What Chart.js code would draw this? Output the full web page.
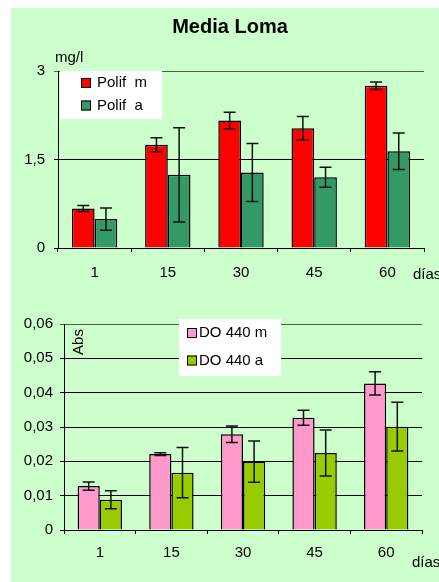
<!DOCTYPE html>
<html>
<head>
<meta charset="utf-8">
<script src="https://cdn.jsdelivr.net/npm/chart.js@4.4.0/dist/chart.umd.min.js"></script>
<style>
  body { margin: 0; background: #fff; }
  #panel { position: absolute; left: 11px; top: 8px; width: 428px; height: 574px; background: #ccffcc; overflow: hidden; }
  canvas { position: absolute; left: 0; }
  #polifChart { top: 0; }
  #absChart { top: 282px; }
</style>
</head>
<body>
<div id="panel">
  <canvas id="polifChart" width="428" height="282"></canvas>
  <canvas id="absChart" width="428" height="292"></canvas>
</div>
<script>
// values
var days = ['1', '15', '30', '45', '60'];

var polifM = [0.67, 1.75, 2.16, 2.03, 2.75];
var polifMErr = [0.05, 0.12, 0.14, 0.20, 0.065];
var polifA = [0.49, 1.24, 1.28, 1.20, 1.64];
var polifAErr = [0.19, 0.80, 0.49, 0.17, 0.31];

var doM = [0.0128, 0.0221, 0.0279, 0.0327, 0.0427];
var doMErr = [0.0012, 0.0004, 0.0024, 0.0022, 0.0034];
var doA = [0.0088, 0.0167, 0.0199, 0.0224, 0.0301];
var doAErr = [0.0026, 0.0073, 0.0060, 0.0067, 0.0071];

var FONT = "'Liberation Sans', Arial, sans-serif";
Chart.defaults.font.family = FONT;
Chart.defaults.font.size = 15;
Chart.defaults.color = '#000';

// error bars (uses dataset.errors)
var errorBars = {
  id: 'errorBars',
  afterDatasetsDraw: function(chart) {
    var ctx = chart.ctx;
    var yScale = chart.scales.y;
    ctx.save();
    ctx.strokeStyle = '#111';
    ctx.lineWidth = 1.5;
    chart.data.datasets.forEach(function(ds, i) {
      var meta = chart.getDatasetMeta(i);
      meta.data.forEach(function(bar, j) {
        var v = ds.data[j], e = ds.errors[j];
        var top = yScale.getPixelForValue(v + e);
        var bot = yScale.getPixelForValue(v - e);
        ctx.beginPath();
        ctx.moveTo(bar.x, top); ctx.lineTo(bar.x, bot);
        ctx.moveTo(bar.x - 6, top); ctx.lineTo(bar.x + 6, top);
        ctx.moveTo(bar.x - 6, bot); ctx.lineTo(bar.x + 6, bot);
        ctx.stroke();
      });
    });
    ctx.restore();
  }
};

// legend box + extra texts (title, units)
var extras = {
  id: 'extras',
  afterDraw: function(chart, args, opts) {
    var ctx = chart.ctx;
    ctx.save();
    var b = opts.box;
    ctx.fillStyle = '#fff';
    ctx.fillRect(b.x, b.y, b.w, b.h);
    ctx.font = '15px ' + FONT;
    ctx.textBaseline = 'middle';
    ctx.textAlign = 'left';
    chart.data.datasets.forEach(function(ds, i) {
      var cy = b.rows[i];
      ctx.fillStyle = ds.backgroundColor;
      ctx.fillRect(b.sx, cy - 5, 10, 10);
      ctx.strokeStyle = '#000';
      ctx.lineWidth = 1;
      ctx.strokeRect(b.sx + 0.5, cy - 4.5, 9, 9);
      ctx.fillStyle = '#000';
      ctx.fillText(ds.label, b.tx, cy);
    });
    opts.texts.forEach(function(t) {
      ctx.save();
      ctx.translate(t.x, t.y);
      if (t.rot) ctx.rotate(t.rot);
      ctx.font = (t.font || '15px') + ' ' + FONT;
      ctx.textAlign = t.align || 'left';
      ctx.fillStyle = '#000';
      ctx.fillText(t.text, 0, 0);
      ctx.restore();
    });
    ctx.restore();
  }
};

function gridColor(max) {
  return function(c) { return c.tick && c.tick.value === max ? '#4f5f4f' : '#000'; };
}

new Chart(document.getElementById('polifChart'), {
  type: 'bar',
  data: {
    labels: days,
    datasets: [
      { label: 'Polif  m', data: polifM, errors: polifMErr, backgroundColor: '#ff0000', borderColor: '#000', borderWidth: 1.5 },
      { label: 'Polif  a', data: polifA, errors: polifAErr, backgroundColor: '#339966', borderColor: '#000', borderWidth: 1.5 }
    ]
  },
  plugins: [errorBars, extras],
  options: {
    responsive: false,
    animation: false,
    layout: { padding: { top: 63, right: 15 } },
    categoryPercentage: 0.62,
    barPercentage: 1,
    plugins: {
      legend: { display: false },
      tooltip: { enabled: false },
      extras: {
        box: { x: 49, y: 63, w: 102, h: 48, sx: 70, tx: 86, rows: [75, 97.5] },
        texts: [
          { text: 'Media Loma', x: 219, y: 19, align: 'center', font: 'bold 20px' },
          { text: 'mg/l', x: 44, y: 50 },
          { text: 'días', x: 402, y: 267 }
        ]
      }
    },
    scales: {
      x: {
        grid: { drawOnChartArea: false, tickLength: 4, color: '#000' },
        border: { color: '#000' },
        ticks: { padding: 12 },
        afterFit: function(s) { s.height = 42; }
      },
      y: {
        min: 0, max: 3,
        grid: { color: gridColor(3), tickLength: 4 },
        border: { color: '#000' },
        ticks: { stepSize: 1.5, padding: 9, callback: function(v) { return String(+v.toFixed(1)).replace('.', ','); } },
        afterFit: function(s) { s.width = 47; }
      }
    }
  }
});

new Chart(document.getElementById('absChart'), {
  type: 'bar',
  data: {
    labels: days,
    datasets: [
      { label: 'DO 440 m', data: doM, errors: doMErr, backgroundColor: '#ff99cc', borderColor: '#000', borderWidth: 1.5 },
      { label: 'DO 440 a', data: doA, errors: doAErr, backgroundColor: '#99cc00', borderColor: '#000', borderWidth: 1.5 }
    ]
  },
  plugins: [errorBars, extras],
  options: {
    responsive: false,
    animation: false,
    layout: { padding: { top: 34, right: 17 } },
    categoryPercentage: 0.62,
    barPercentage: 1,
    plugins: {
      legend: { display: false },
      tooltip: { enabled: false },
      extras: {
        box: { x: 168, y: 29, w: 102, h: 57, sx: 176, tx: 188, rows: [43, 70.5] },
        texts: [
          { text: 'Abs', x: 68, y: 52, rot: -Math.PI / 2, align: 'center' },
          { text: 'días', x: 401, y: 273 }
        ]
      }
    },
    scales: {
      x: {
        grid: { drawOnChartArea: false, tickLength: 4, color: '#000' },
        border: { color: '#000' },
        ticks: { padding: 10 },
        afterFit: function(s) { s.height = 52; }
      },
      y: {
        min: 0, max: 0.06,
        grid: { color: gridColor(0.06), tickLength: 4 },
        border: { color: '#000' },
        ticks: { stepSize: 0.01, padding: 7, callback: function(v) { return v === 0 ? '0' : v.toFixed(2).replace('.', ','); } },
        afterFit: function(s) { s.width = 53; }
      }
    }
  }
});
</script>
</body>
</html>
